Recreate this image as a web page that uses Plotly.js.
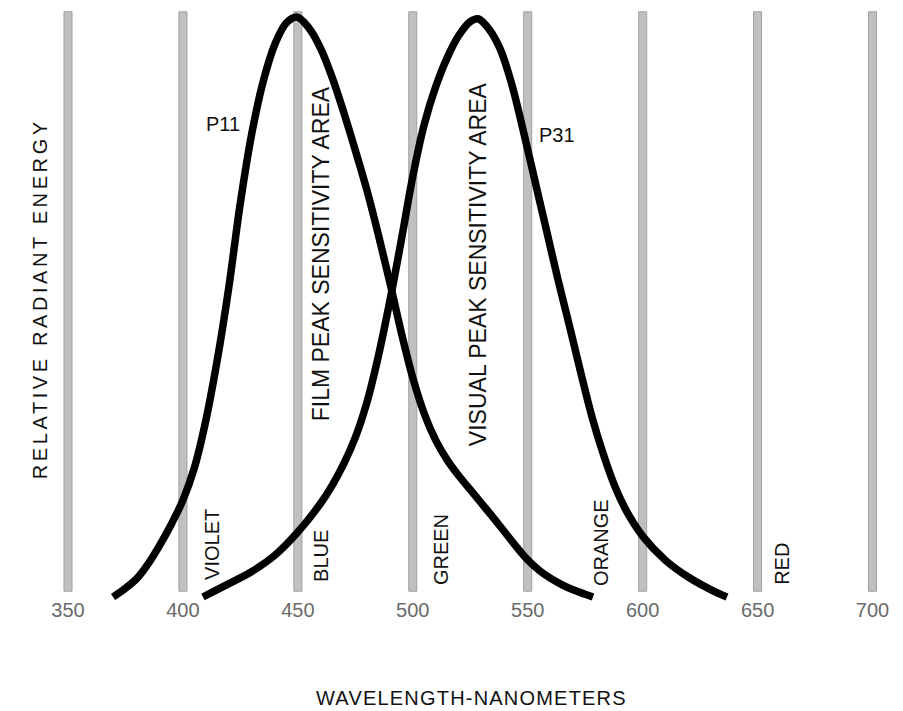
<!DOCTYPE html>
<html><head><meta charset="utf-8">
<script src="https://cdn.plot.ly/plotly-3.0.1.min.js"></script>
<style>
html,body{margin:0;padding:0;background:#fff}
text.annotation-text[data-unformatted="RELATIVE RADIANT ENERGY"]{letter-spacing:3.6px}
text.annotation-text[data-unformatted="WAVELENGTH-NANOMETERS"]{letter-spacing:1.2px}
</style>
</head><body><div id="chart" style="width:903px;height:711px"></div>
<script>
// wavelength ticks (nm)
const tickVals = [350, 400, 450, 500, 550, 600, 650, 700];
const tickText = ['350', '400', '450', '500', '550', '600', '650', '700'];

// P11 phosphor spectral curve (relative radiant energy, peak = 100)
const p11Nm  = [369.6, 375, 380, 385, 390, 395, 400, 405, 410, 415, 420, 425, 430, 435, 440, 445, 449.6,
                455, 460, 465, 470, 475, 480, 485, 490, 495, 500, 505, 510, 515, 520, 525, 530, 535, 540, 545, 550, 555, 560, 565, 570, 578.4];
const p11Val = [0, 1.5, 3.2, 5.8, 9.0, 12.6, 16.7, 22.3, 30.5, 41.0, 53.5, 68.0, 80.0, 89.0, 95.3, 99.0, 100,
                98.0, 94.5, 89.5, 83.5, 77.0, 70.2, 62.5, 54.3, 45.6, 37.8, 31.6, 27.0, 23.6, 20.9, 18.5, 16.1, 13.7, 11.2, 8.7, 6.4, 4.6, 3.2, 2.1, 1.2, 0];

// P31 phosphor spectral curve
const p31Nm  = [408.7, 420, 430, 440, 450, 460, 465, 470, 475, 480, 485, 490, 495, 500, 505, 510, 515, 520, 525, 528.4,
                533, 538, 543, 548, 553, 558, 563, 568, 573, 578, 583, 588, 593, 600, 610, 620, 630, 636.7];
const p31Val = [0, 2.3, 4.4, 7.2, 11.2, 16.2, 19.3, 23.0, 27.5, 33.5, 41.5, 51.0, 61.5, 72.5, 81.5, 88.0, 93.0, 96.8, 99.2, 99.7,
                98.0, 94.5, 88.5, 80.5, 72.0, 63.5, 55.0, 47.0, 38.8, 31.0, 24.5, 19.0, 14.8, 10.5, 6.3, 3.4, 1.2, 0];

const curveNames = ['P11', 'P31'];
const bandNames = ['VIOLET', 'BLUE', 'GREEN', 'ORANGE', 'RED'];
const areaNames = ['FILM PEAK SENSITIVITY AREA', 'VISUAL PEAK SENSITIVITY AREA'];

const FONT = 'Liberation Sans, Arial, Helvetica, sans-serif';

const lineStyle = {color: '#000', width: 7.5, shape: 'spline', smoothing: 1};
const traces = [
  {x: p11Nm, y: p11Val, name: curveNames[0], type: 'scatter', mode: 'lines', line: lineStyle, hoverinfo: 'skip'},
  {x: p31Nm, y: p31Val, name: curveNames[1], type: 'scatter', mode: 'lines', line: lineStyle, hoverinfo: 'skip'}
];

const halfW = 1.75;
const shapes = tickVals.map(v => ({
  type: 'rect', xref: 'x', yref: 'y', layer: 'below',
  x0: v - halfW, x1: v + halfW, y0: 1.0, y1: 100.9,
  fillcolor: '#c0c0c0', line: {color: '#a0a0a0', width: 1}
}));

function txt(text, x, y, size, angle) {
  return {
    text: text, x: x, y: y, xref: 'x', yref: 'y', showarrow: false,
    textangle: angle || 0, font: {family: FONT, size: size, color: '#111'}
  };
}

const annotations = [
  txt(curveNames[0], 417.4, 81.6, 20),
  txt(curveNames[1], 562.7, 79.7, 20),
  txt(areaNames[0], 460.1, 59.1, 23, -90),
  txt(areaNames[1], 528.4, 57.4, 23, -90),
  txt(bandNames[0], 412.7, 9.0, 20, -90),
  txt(bandNames[1], 460.1, 7.1, 20, -90),
  txt(bandNames[2], 512.3, 8.1, 20, -90),
  txt(bandNames[3], 581.9, 9.3, 20, -90),
  txt(bandNames[4], 660.6, 5.7, 20, -90),
  {text: 'RELATIVE RADIANT ENERGY', xref: 'paper', yref: 'y', x: -0.027, y: 51.5,
   showarrow: false, textangle: -90, font: {family: FONT, size: 20, color: '#111'}},
  {text: 'WAVELENGTH-NANOMETERS', xref: 'paper', yref: 'paper', x: 0.4936, y: -0.1575,
   xanchor: 'center', yanchor: 'middle', showarrow: false,
   font: {family: FONT, size: 20, color: '#111'}}
];

const layout = {
  width: 903, height: 711,
  margin: {l: 50, r: 0, t: 0, b: 108},
  paper_bgcolor: '#fff', plot_bgcolor: '#fff',
  showlegend: false,
  xaxis: {
    range: [342.17, 713.27], tickmode: 'array', tickvals: tickVals, ticktext: tickText,
    showgrid: false, zeroline: false, showline: false, ticks: '', ticklabelstandoff: -7,
    tickfont: {family: FONT, size: 20, color: '#6a6a6a'}, fixedrange: true
  },
  yaxis: {
    range: [-1.034, 102.93], showgrid: false, zeroline: false, showline: false,
    showticklabels: false, ticks: '', fixedrange: true
  },
  shapes: shapes,
  annotations: annotations
};

Plotly.newPlot('chart', traces, layout, {displayModeBar: false, staticPlot: true});
</script></body></html>
